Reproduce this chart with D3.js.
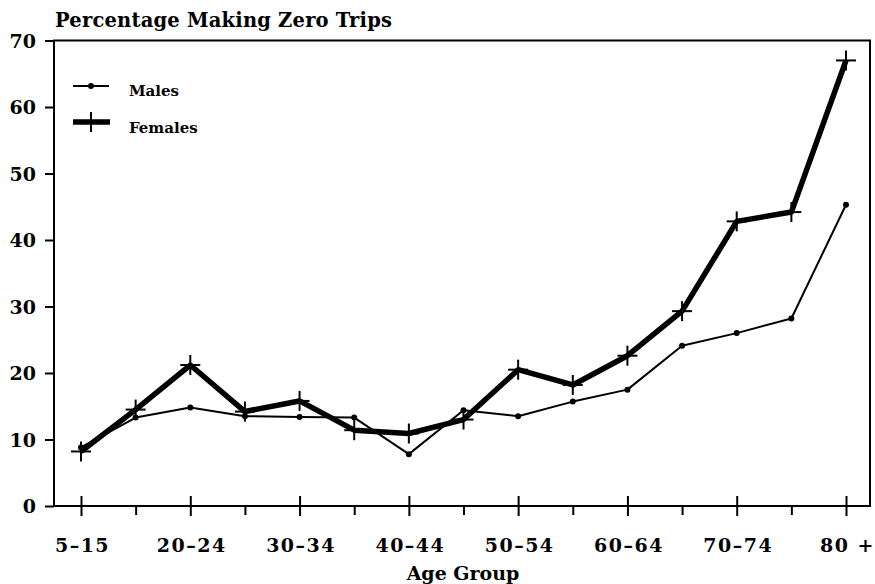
<!DOCTYPE html>
<html>
<head>
<meta charset="utf-8">
<script src="https://cdn.jsdelivr.net/npm/d3@7/dist/d3.min.js"></script>
<style>
  html, body { margin: 0; padding: 0; background: #fff; }
  svg { display: block; }
  text { font-family: "DejaVu Serif", serif; font-weight: bold; fill: #000; }
</style>
</head>
<body>
<svg id="chart" width="875" height="584"></svg>
<script>
// ---- data ----
const categories = ["5–15","16–19","20–24","25–29","30–34","35–39","40–44","45–49",
                    "50–54","55–59","60–64","65–69","70–74","75–79","80 +"];
const labeledCategories = ["5–15","20–24","30–34","40–44","50–54","60–64","70–74","80 +"];
const males   = [8.8, 13.3, 14.8, 13.5, 13.4, 13.3, 7.8, 14.4, 13.5, 15.7, 17.5, 24.1, 26.0, 28.2, 45.3];
const females = [8.2, 14.5, 21.2, 14.2, 15.8, 11.4, 10.9, 13.0, 20.5, 18.2, 22.6, 29.3, 42.8, 44.2, 67.0];
const yTicks = [0, 10, 20, 30, 40, 50, 60, 70];
const seriesNames = ["Males", "Females"];
const chartTitle = "Percentage Making Zero Trips";
const xTitle = "Age Group";

// ---- layout ----
const svg = d3.select("#chart");
const pLeft = 54, pRight = 870, pTop = 40.5, pBottom = 506;

const x = d3.scalePoint().domain(categories).range([81, 846]);
const y = d3.scaleLinear().domain([0, 70]).range([pBottom, pTop]);

// frame
svg.append("rect")
  .attr("x", pLeft).attr("y", pTop)
  .attr("width", pRight - pLeft).attr("height", pBottom - pTop)
  .attr("fill", "none").attr("stroke", "#000").attr("stroke-width", 2);

// y axis
const gy = svg.append("g").attr("transform", `translate(${pLeft},0)`)
  .call(d3.axisLeft(y).tickValues(yTicks).tickSize(9).tickPadding(9).tickFormat(d3.format("d")));
gy.select(".domain").remove();
gy.selectAll(".tick line").attr("stroke", "#000").attr("stroke-width", 2);
gy.selectAll(".tick text").attr("font-size", 19).attr("dy", "0.36em")
  .style("font-family", '"DejaVu Serif", serif').style("font-weight", "bold");

// x axis
const gx = svg.append("g").attr("transform", `translate(0,${pBottom})`)
  .call(d3.axisBottom(x).tickSize(9)
    .tickFormat(d => labeledCategories.includes(d) ? d : ""));
gx.select(".domain").remove();
gx.selectAll(".tick line")
  .attr("stroke", "#000").attr("stroke-width", 2)
  .attr("y1", d => labeledCategories.includes(d) ? -10 : 1)
  .attr("y2", d => labeledCategories.includes(d) ? 10 : 9);
gx.selectAll(".tick text").attr("font-size", 19).attr("y", 46).attr("dy", 0)
  .attr("letter-spacing", 1.5).attr("dx", 1)
  .style("font-family", '"DejaVu Serif", serif').style("font-weight", "bold");

// titles
svg.append("text").attr("x", 55).attr("y", 27).attr("font-size", 19.5)
  .attr("letter-spacing", 0.2).text(chartTitle);
svg.append("text").attr("x", 463).attr("y", 580).attr("text-anchor", "middle")
  .attr("font-size", 19).text(xTitle);

// lines
const line = d3.line().x((d, i) => x(categories[i])).y(d => y(d));

svg.append("path").datum(males).attr("d", line)
  .attr("fill", "none").attr("stroke", "#000").attr("stroke-width", 2).attr("stroke-linejoin", "round");
svg.append("path").datum(females).attr("d", line)
  .attr("fill", "none").attr("stroke", "#000").attr("stroke-width", 5.5).attr("stroke-linejoin", "round");

// male markers
svg.append("g").selectAll("circle").data(males).join("circle")
  .attr("cx", (d, i) => x(categories[i])).attr("cy", d => y(d)).attr("r", 3).attr("fill", "#000");

// female cross markers
const cross = (g, cx, cy) => {
  g.append("line").attr("x1", cx - 10).attr("x2", cx + 10).attr("y1", cy).attr("y2", cy)
    .attr("stroke", "#000").attr("stroke-width", 2);
  g.append("line").attr("x1", cx).attr("x2", cx).attr("y1", cy - 10).attr("y2", cy + 10)
    .attr("stroke", "#000").attr("stroke-width", 2);
};
const gf = svg.append("g");
females.forEach((d, i) => cross(gf, x(categories[i]), y(d)));

// legend
const lg = svg.append("g");
lg.append("line").attr("x1", 73).attr("x2", 109).attr("y1", 86).attr("y2", 86)
  .attr("stroke", "#000").attr("stroke-width", 2);
lg.append("circle").attr("cx", 91).attr("cy", 86).attr("r", 3).attr("fill", "#000");
lg.append("text").attr("x", 129).attr("y", 96).attr("font-size", 15).text(seriesNames[0]);
lg.append("line").attr("x1", 73).attr("x2", 110).attr("y1", 122).attr("y2", 122)
  .attr("stroke", "#000").attr("stroke-width", 5.5);
cross(lg, 91, 122);
lg.append("text").attr("x", 129).attr("y", 133).attr("font-size", 15).text(seriesNames[1]);
</script>
</body>
</html>
